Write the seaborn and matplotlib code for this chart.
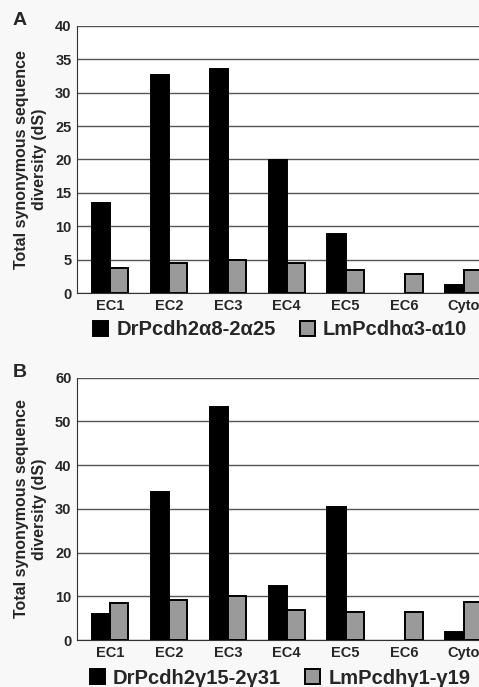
import pandas as pd
import matplotlib
matplotlib.use("Agg")
import matplotlib.pyplot as plt
import seaborn as sns

# data
domains = ["EC1", "EC2", "EC3", "EC4", "EC5", "EC6", "Cyto"]
dr_alpha = [13.5, 32.6, 33.6, 19.9, 8.9, 0.0, 1.2]
lm_alpha = [3.7, 4.5, 4.9, 4.5, 3.5, 2.9, 3.5]
dr_gamma = [5.9, 33.9, 53.2, 12.4, 30.5, 0.0, 1.9]
lm_gamma = [8.5, 9.2, 10.1, 6.9, 6.3, 6.3, 8.6]

names_a = ["DrPcdh2α8-2α25", "LmPcdhα3-α10"]
names_b = ["DrPcdh2γ15-2γ31", "LmPcdhγ1-γ19"]
yticks_a = [0, 5, 10, 15, 20, 25, 30, 35, 40]
yticks_b = [0, 10, 20, 30, 40, 50, 60]

sns.set_style("white")
plt.rcParams["font.family"] = ["Liberation Sans", "DejaVu Sans"]
plt.rcParams["font.weight"] = "bold"


def long_df(s1, s2, names):
    rows = []
    for d, v in zip(domains, s1):
        rows.append({"domain": d, "series": names[0], "dS": v})
    for d, v in zip(domains, s2):
        rows.append({"domain": d, "series": names[1], "dS": v})
    return pd.DataFrame(rows)


fig = plt.figure(figsize=(4.79, 6.87), dpi=100)
fig.patch.set_facecolor("#f8f8f8")

ax_a = fig.add_axes([0.1608, 0.5735, 0.8685, 0.3887])
ax_b = fig.add_axes([0.1608, 0.0684, 0.8685, 0.3818])

# axes, data, series names, y ticks, panel letter, letter baseline, legend centre
panels = [
    (ax_a, long_df(dr_alpha, lm_alpha, names_a), names_a, yticks_a, "A", 0.9636, 0.5197),
    (ax_b, long_df(dr_gamma, lm_gamma, names_b), names_b, yticks_b, "B", 0.4517, 0.0131),
]

for ax, df, names, yt, letter, let_y, leg_y in panels:
    sns.barplot(data=df, x="domain", y="dS", hue="series", order=domains,
                hue_order=names, palette=["black", "#9a9a9a"], width=0.62,
                edgecolor="black", linewidth=1.4, ax=ax, zorder=3)
    # empty bars (EC6) should not leave a stroke on the axis
    for cont in ax.containers:
        for p in cont:
            if p.get_height() == 0:
                p.set_visible(False)
    ax.set_facecolor("white")
    ax.set_xlim(-0.56, 6.5)
    ax.set_ylim(0, yt[-1])
    ax.set_yticks(yt)
    ax.set_yticklabels([str(t) for t in yt], fontsize=10.5, fontweight="bold")
    ax.set_xticks(range(len(domains)))
    ax.set_xticklabels(domains, fontsize=10.5, fontweight="bold")
    ax.set_xticks([i + 0.5 for i in range(len(domains))], minor=True)
    ax.tick_params(axis="x", which="major", length=0, pad=4)
    ax.tick_params(axis="x", which="minor", length=3, color="#777777")
    ax.tick_params(axis="y", length=2, pad=2)
    ax.set_xlabel("")
    ax.set_ylabel("Total synonymous sequence\ndiversity (dS)", fontsize=11.5,
                  fontweight="bold", labelpad=6)
    ax.grid(axis="y", color="#555555", linewidth=1.0, zorder=0)
    ax.set_axisbelow(True)
    for side in ["top", "right"]:
        ax.spines[side].set_visible(False)
    ax.spines["left"].set_color("#333333")
    ax.spines["bottom"].set_color("#333333")
    handles, labels = ax.get_legend_handles_labels()
    ax.get_legend().remove()
    fig.legend(handles, labels, loc="center", bbox_to_anchor=(0.585, leg_y),
               ncol=2, frameon=False, prop={"size": 14.5, "weight": "bold"},
               handlelength=0.75, handleheight=0.75, handletextpad=0.4,
               columnspacing=1.2, borderpad=0)
    fig.text(0.026, let_y, letter, fontsize=14, fontweight="bold", va="baseline")

fig.savefig("out.png", dpi=100, facecolor=fig.get_facecolor())
